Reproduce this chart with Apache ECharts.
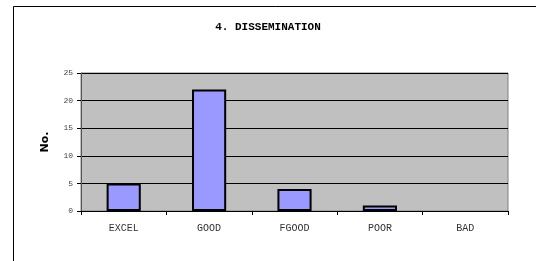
<!DOCTYPE html>
<html>
<head>
<meta charset="utf-8">
<script src="https://cdn.jsdelivr.net/npm/echarts@6/dist/echarts.min.js"></script>
<style>
html,body{margin:0;padding:0;background:#fff;}
#main{width:536px;height:261px;}
</style>
</head>
<body>
<div id="main"></div>
<script>
// 数据
var categories = ['EXCEL', 'GOOD', 'FGOOD', 'POOR', 'BAD'];
var counts = [5, 22, 4, 1, 0];
var yTicks = [0, 5, 10, 15, 20, 25];

var chart = echarts.init(document.getElementById('main'));
var option = {
    animation: false,
    backgroundColor: '#fff',
    title: {
        text: '4. DISSEMINATION',
        left: 'center',
        top: 17,
        textStyle: {
            fontFamily: 'Liberation Mono',
            fontSize: 11,
            fontWeight: 'bold',
            color: '#000'
        }
    },
    // 外框
    graphic: [{
        type: 'rect',
        shape: {x: 13.5, y: 6.5, width: 600, height: 300},
        style: {fill: 'none', stroke: '#000', lineWidth: 1},
        silent: true
    }],
    grid: {
        left: 81,
        right: 28,
        top: 73,
        bottom: 50,
        show: true,
        backgroundColor: '#c0c0c0',
        borderColor: '#808080',
        borderWidth: 1
    },
    xAxis: {
        type: 'category',
        data: categories,
        axisLine: {lineStyle: {color: '#000', width: 1}},
        axisTick: {show: true, length: 4, lineStyle: {color: '#000'}},
        axisLabel: {
            margin: 12,
            fontFamily: 'Liberation Mono',
            fontSize: 10,
            color: '#333'
        }
    },
    yAxis: {
        type: 'value',
        min: yTicks[0],
        max: yTicks[yTicks.length - 1],
        interval: 5,
        name: 'No.',
        nameLocation: 'middle',
        nameRotate: 90,
        nameGap: 30,
        nameTextStyle: {
            fontFamily: 'DejaVu Sans',
            fontSize: 11,
            fontWeight: 'bold',
            color: '#000'
        },
        axisLine: {show: true, lineStyle: {color: '#555', width: 1}},
        axisTick: {show: true, length: 4, lineStyle: {color: '#000'}},
        splitLine: {show: true, lineStyle: {color: '#000', width: 1}},
        axisLabel: {
            margin: 8,
            fontFamily: 'Liberation Mono',
            fontSize: 8,
            color: '#444'
        }
    },
    series: [{
        type: 'bar',
        // 值为0的柱子不画边框
        data: counts.map(function (v) {
            return v === 0 ? {value: v, itemStyle: {borderWidth: 0}} : v;
        }),
        barWidth: '40%',
        itemStyle: {
            color: '#9999ff',
            borderColor: '#000',
            borderWidth: 2
        }
    }]
};
chart.setOption(option);
</script>
</body>
</html>
